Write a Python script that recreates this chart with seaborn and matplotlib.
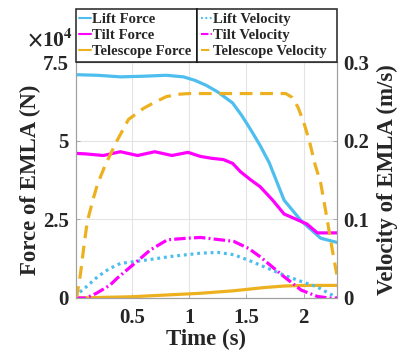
import numpy as np
import pandas as pd
import seaborn as sns
import matplotlib
matplotlib.use("Agg")
import matplotlib.pyplot as plt
from matplotlib.ticker import FuncFormatter

# ---- force data (N) ----
lift_force_t = [0.0, 0.2, 0.4, 0.6, 0.8, 0.95, 1.05, 1.15, 1.25, 1.38, 1.46, 1.54,
                1.62, 1.70, 1.83, 1.98, 2.15, 2.30]
lift_force = [71000, 70800, 70300, 70500, 70800, 70300, 69200, 67600, 65500, 62000,
              58000, 53400, 48500, 43000, 31100, 24500, 19000, 17600]

tilt_force_t = [0.0, 0.1, 0.25, 0.40, 0.55, 0.70, 0.85, 0.99, 1.10, 1.20, 1.30, 1.38,
                1.45, 1.54, 1.62, 1.73, 1.83, 1.95, 2.03, 2.12, 2.20, 2.30]
tilt_force = [46000, 45800, 45300, 46500, 45300, 46500, 45300, 46300, 45000, 44400,
              44000, 42800, 40100, 37500, 35400, 31100, 26700, 24800, 23500, 20700,
              20700, 20700]

tele_force_t = [0.0, 0.5, 1.1, 1.39, 1.65, 1.83, 2.0, 2.3]
tele_force = [0, 400, 1500, 2300, 3300, 3800, 4000, 4000]

# ---- velocity data (m/s) ----
lift_vel_t = [0.0, 0.1, 0.2, 0.3, 0.4, 0.51, 0.66, 0.85, 1.1, 1.25, 1.39, 1.52, 1.65,
              1.83, 1.98, 2.12, 2.22, 2.30]
lift_vel = [0.002, 0.014, 0.027, 0.037, 0.044, 0.046, 0.049, 0.053, 0.057, 0.058,
            0.055, 0.048, 0.040, 0.029, 0.021, 0.014, 0.006, 0.0]

tilt_vel_t = [0.0, 0.1, 0.19, 0.31, 0.37, 0.54, 0.66, 0.81, 0.98, 1.1, 1.39, 1.52,
              1.625, 1.83, 1.98, 2.12, 2.22, 2.3]
tilt_vel = [0.0, 0.0, 0.006, 0.0165, 0.025, 0.046, 0.061, 0.074, 0.076, 0.077, 0.072,
            0.063, 0.052, 0.027, 0.010, 0.002, 0.0, 0.0]

tele_vel_t = [0.0, 0.02, 0.05, 0.08, 0.11, 0.16, 0.2, 0.27, 0.37, 0.47, 0.6, 0.7, 0.8,
              0.9, 1.0, 1.845, 1.9, 1.95, 2.0, 2.05, 2.1, 2.15, 2.2, 2.25, 2.29]
tele_vel = [0.0, 0.003, 0.03, 0.065, 0.097, 0.125, 0.145, 0.17, 0.20, 0.227, 0.241,
            0.249, 0.256, 0.259, 0.26, 0.26, 0.255, 0.243, 0.224, 0.200, 0.170, 0.146,
            0.105, 0.062, 0.03]

x_ticks = [0.5, 1, 1.5, 2]
force_ticks = [0, 25000, 50000, 75000]
vel_ticks = [0, 0.1, 0.2, 0.3]

BLUE = "#4DBEEE"
MAGENTA = "#FF00FF"
ORANGE = "#EDB120"

sns.set_theme(style="white")
plt.rcParams["font.family"] = ["Liberation Serif", "DejaVu Serif"]
plt.rcParams["font.weight"] = "bold"
plt.rcParams["mathtext.fontset"] = "stix"

fig = plt.figure(figsize=(3.99, 3.58), dpi=100)
ax = fig.add_axes([0.19, 0.1676, 0.654, 0.659])
ax2 = ax.twinx()

lw = 2.3
sns.lineplot(x=lift_force_t, y=lift_force, ax=ax, color=BLUE, lw=lw,
             label="Lift Force", legend=False)
sns.lineplot(x=tilt_force_t, y=tilt_force, ax=ax, color=MAGENTA, lw=lw,
             label="Tilt Force", legend=False)
sns.lineplot(x=tele_force_t, y=tele_force, ax=ax, color=ORANGE, lw=lw,
             label="Telescope Force", legend=False)

sns.lineplot(x=lift_vel_t, y=lift_vel, ax=ax2, color=BLUE, lw=lw,
             label="Lift Velocity", legend=False)
sns.lineplot(x=tilt_vel_t, y=tilt_vel, ax=ax2, color=MAGENTA, lw=lw,
             label="Tilt Velocity", legend=False)
sns.lineplot(x=tele_vel_t, y=tele_vel, ax=ax2, color=ORANGE, lw=lw,
             label="Telescope Velocity", legend=False)
ax2.lines[0].set_linestyle((0, (0.9, 1.2)))
ax2.lines[1].set_linestyle((0, (3.6, 1.0, 0.6, 1.0)))
ax2.lines[2].set_linestyle((0, (4, 2.4)))

ax.set_xlim(0.01, 2.29)
ax.set_ylim(0, 75000)
ax2.set_ylim(0, 0.3)
ax.set_xticks(x_ticks)
ax.set_xticklabels(["0.5", "1", "1.5", "2"])
ax.set_yticks(force_ticks)
ax.yaxis.set_major_formatter(FuncFormatter(lambda v, p: f"{v/1e4:g}"))
ax2.set_yticks(vel_ticks)
ax2.set_yticklabels(["0", "0.1", "0.2", "0.3"])

ax.grid(True, color="#e4e4e4", lw=0.8)
for a in (ax, ax2):
    for s in a.spines.values():
        s.set_color("#a0a0a0")
        s.set_linewidth(0.8)
    a.tick_params(direction="in", length=3, width=0.6, color="#a0a0a0",
                  labelsize=15, pad=5)
    for lab in a.get_xticklabels() + a.get_yticklabels():
        lab.set_fontweight("bold")
ax.tick_params(axis="y", left=True, right=False)
ax.tick_params(axis="x", bottom=True, pad=7)
ax2.tick_params(axis="y", right=True)

ax.set_xlabel("Time (s)", fontsize=16.5, fontweight="bold", labelpad=1)
ax.set_ylabel("Force of EMLA (N)", fontsize=16.5, fontweight="bold", labelpad=1)
ax2.set_ylabel("Velocity of EMLA (m/s)", fontsize=16.5, fontweight="bold", labelpad=5)

fig.text(0.068, 0.858, r"$\times$10$^{4}$", fontsize=15.5, fontweight="bold",
         ha="left", va="bottom")

# two boxed legends sitting side by side on top of the axes
split = 0.4937
leg_kw = dict(loc="lower left", mode="expand", frameon=True, fancybox=False,
              handlelength=0.75, handletextpad=0.1, labelspacing=0.2,
              borderpad=0.25, borderaxespad=0.0,
              prop={"weight": "bold", "size": 10.6})
h1, l1 = ax.get_legend_handles_labels()
h2, l2 = ax2.get_legend_handles_labels()
leg1 = fig.legend(h1, l1, bbox_to_anchor=(0.19, 0.8268, split - 0.19, 0), **leg_kw)
leg2 = fig.legend(h2, l2, bbox_to_anchor=(split, 0.8268, 0.844 - split, 0), **leg_kw)
for lg in (leg1, leg2):
    lg.get_frame().set_edgecolor("black")
    lg.get_frame().set_linewidth(1.2)
    for ln in lg.get_lines():
        ln.set_linewidth(1.5)

fig.savefig("out.png", dpi=100)
